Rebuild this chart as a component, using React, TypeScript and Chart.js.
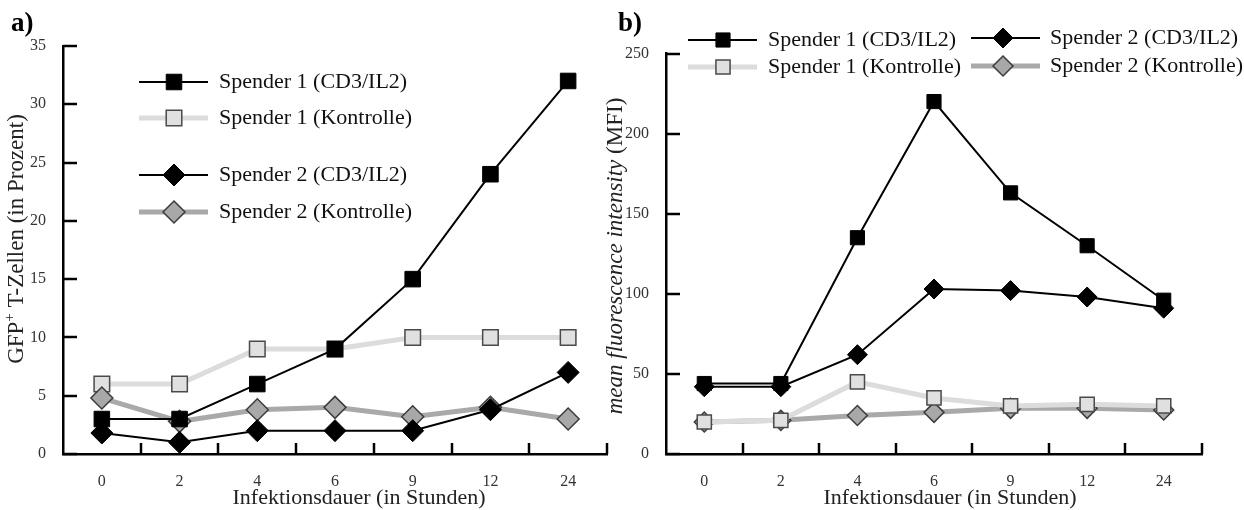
import React, { useEffect, useRef } from 'react';
import { Chart, registerables } from 'chart.js';

Chart.register(...registerables);

// Infection time points (hours)
const hours = ['0', '2', '4', '6', '9', '12', '24'];

const seriesNames = [
  'Spender 1 (CD3/IL2)',
  'Spender 1 (Kontrolle)',
  'Spender 2 (CD3/IL2)',
  'Spender 2 (Kontrolle)',
];

// Panel a: GFP+ T cells in percent
const gfpDonor1Stim = [3, 3, 6, 9, 15, 24, 32];
const gfpDonor1Ctrl = [6, 6, 9, 9, 10, 10, 10];
const gfpDonor2Stim = [1.8, 1, 2, 2, 2, 3.8, 7];
const gfpDonor2Ctrl = [4.8, 2.8, 3.8, 4, 3.2, 4, 3];

// Panel b: mean fluorescence intensity
const mfiDonor1Stim = [44, 44, 135, 220, 163, 130, 96];
const mfiDonor1Ctrl = [20, 21, 45, 35, 30, 31, 30];
const mfiDonor2Stim = [42, 42, 62, 103, 102, 98, 91];
const mfiDonor2Ctrl = [20, 21, 24, 26, 28.5, 28.5, 27.5];

// Axis ranges
const gfpAxisMax = 35;
const gfpAxisStep = 5;
const mfiAxisMax = 250;
const mfiAxisStep = 50;

const SERIF = '"Liberation Serif", "Times New Roman", serif';

type SeriesStyle = {
  line: string;
  lineWidth: number;
  shape: 'rect' | 'rectRot';
  fill: string;
  edge: string;
  edgeWidth: number;
};

const styleStim1: SeriesStyle = { line: '#000', lineWidth: 2, shape: 'rect', fill: '#000', edge: '#000', edgeWidth: 1 };
const styleCtrl1: SeriesStyle = { line: '#dcdcdc', lineWidth: 5, shape: 'rect', fill: '#e0e0e0', edge: '#4a4a4a', edgeWidth: 1.5 };
const styleStim2: SeriesStyle = { line: '#000', lineWidth: 2, shape: 'rectRot', fill: '#000', edge: '#000', edgeWidth: 1 };
const styleCtrl2: SeriesStyle = { line: '#a9a9a9', lineWidth: 5, shape: 'rectRot', fill: '#a8a8a8', edge: '#3c3c3c', edgeWidth: 1.5 };

function makeDataset(label: string, data: number[], s: SeriesStyle, radius: number, order: number) {
  return {
    label,
    data,
    order,
    borderColor: s.line,
    borderWidth: s.lineWidth,
    tension: 0,
    pointStyle: s.shape,
    pointRadius: radius,
    pointBackgroundColor: s.fill,
    pointBorderColor: s.edge,
    pointBorderWidth: s.edgeWidth,
    clip: false as const,
    _style: s,
  };
}

type TextPart = { text: string; font: string; dy?: number };

type LegendItem = { ds: number; y: number; lineX0: number; lineX1: number; markX: number; textX: number };

type PanelDecor = {
  tag: string;
  tagX: number;
  tagY: number;
  yTitle: TextPart[];
  yTitleX: number;
  yTitleY: number;
  xTitle: string;
  xTitleX: number;
  xTitleY: number;
  legend: LegendItem[];
  radius: number;
};

function drawShape(ctx: CanvasRenderingContext2D, shape: string, x: number, y: number, r: number) {
  ctx.beginPath();
  if (shape === 'rect') {
    const h = Math.SQRT1_2 * r;
    ctx.rect(x - h, y - h, 2 * h, 2 * h);
  } else {
    ctx.moveTo(x, y - r);
    ctx.lineTo(x + r, y);
    ctx.lineTo(x, y + r);
    ctx.lineTo(x - r, y);
    ctx.closePath();
  }
}

function decorPlugin(cfg: PanelDecor) {
  return {
    id: 'panelDecor',
    afterDraw(chart: any) {
      const ctx: CanvasRenderingContext2D = chart.ctx;
      const { left, bottom } = chart.chartArea;
      const xs = chart.scales.x;
      const ys = chart.scales.y;
      ctx.save();

      // inward tick marks on both axes
      ctx.strokeStyle = '#000';
      ctx.lineWidth = 2.5;
      ctx.lineCap = 'butt';
      for (let i = 0; i < hours.length; i++) {
        const px = Math.round(xs.getPixelForValue(i + 0.5));
        ctx.beginPath();
        ctx.moveTo(px, bottom);
        ctx.lineTo(px, bottom - 11);
        ctx.stroke();
      }
      ys.ticks.forEach((t: any) => {
        const py = Math.round(ys.getPixelForValue(t.value));
        ctx.beginPath();
        ctx.moveTo(left, py);
        ctx.lineTo(left + 14, py);
        ctx.stroke();
      });

      // legend
      cfg.legend.forEach((item) => {
        const ds = chart.data.datasets[item.ds];
        const s: SeriesStyle = ds._style;
        ctx.strokeStyle = s.line;
        ctx.lineWidth = s.lineWidth;
        ctx.beginPath();
        ctx.moveTo(item.lineX0, item.y);
        ctx.lineTo(item.lineX1, item.y);
        ctx.stroke();
        drawShape(ctx, s.shape, item.markX, item.y, cfg.radius);
        ctx.fillStyle = s.fill;
        ctx.fill();
        ctx.lineWidth = s.edgeWidth;
        ctx.strokeStyle = s.edge;
        ctx.stroke();
        ctx.fillStyle = '#111';
        ctx.font = `22px ${SERIF}`;
        ctx.textAlign = 'left';
        ctx.textBaseline = 'alphabetic';
        ctx.fillText(ds.label, item.textX, item.y + 6);
      });

      // panel tag
      ctx.fillStyle = '#000';
      ctx.font = `bold 27px ${SERIF}`;
      ctx.textAlign = 'left';
      ctx.textBaseline = 'alphabetic';
      ctx.fillText(cfg.tag, cfg.tagX, cfg.tagY);

      // x axis title
      ctx.fillStyle = '#222';
      ctx.font = `22px ${SERIF}`;
      ctx.textAlign = 'center';
      ctx.textBaseline = 'middle';
      ctx.fillText(cfg.xTitle, cfg.xTitleX, cfg.xTitleY);

      // y axis title, rotated, possibly mixed styles
      ctx.translate(cfg.yTitleX, cfg.yTitleY);
      ctx.rotate(-Math.PI / 2);
      ctx.textAlign = 'left';
      ctx.textBaseline = 'middle';
      let total = 0;
      const widths = cfg.yTitle.map((p) => {
        ctx.font = p.font;
        const w = ctx.measureText(p.text).width;
        total += w;
        return w;
      });
      let cx = -total / 2;
      cfg.yTitle.forEach((p, i) => {
        ctx.font = p.font;
        ctx.fillText(p.text, cx, p.dy || 0);
        cx += widths[i];
      });
      ctx.restore();
    },
  };
}

function buildOptions(yMax: number, yStep: number, yWidth: number, padding: any) {
  return {
    responsive: false,
    animation: false as const,
    events: [] as any[],
    layout: { padding },
    plugins: { legend: { display: false }, tooltip: { enabled: false }, title: { display: false } },
    scales: {
      x: {
        type: 'category' as const,
        offset: true,
        grid: { display: false, offset: true },
        border: { display: true, color: '#000', width: 2.5 },
        ticks: { color: '#333', font: { family: SERIF, size: 16 }, padding: 10, autoSkip: false, maxRotation: 0 },
        afterFit: (s: any) => {
          s.height = 56;
        },
      },
      y: {
        min: 0,
        max: yMax,
        grid: { display: false },
        border: { display: true, color: '#000', width: 2.5 },
        ticks: { stepSize: yStep, color: '#333', font: { family: SERIF, size: 16 }, padding: 9 },
        afterFit: (s: any) => {
          s.width = yWidth;
        },
      },
    },
  };
}

function PanelCanvas(props: { left: number; width: number; build: (c: HTMLCanvasElement) => Chart }) {
  const ref = useRef<HTMLCanvasElement>(null);
  useEffect(() => {
    if (!ref.current) return;
    const chart = props.build(ref.current);
    return () => chart.destroy();
  }, []);
  return (
    <canvas
      ref={ref}
      width={props.width}
      height={510}
      style={{ position: 'absolute', left: props.left, top: 0, width: props.width, height: 510 }}
    />
  );
}

function buildGfp(canvas: HTMLCanvasElement) {
  const r = 11;
  const decor: PanelDecor = {
    tag: 'a)',
    tagX: 11,
    tagY: 31,
    yTitle: [
      { text: 'GFP', font: `23px ${SERIF}` },
      { text: '+', font: `15px ${SERIF}`, dy: -7 },
      { text: ' T-Zellen (in Prozent)', font: `23px ${SERIF}` },
    ],
    yTitleX: 17,
    yTitleY: 239,
    xTitle: 'Infektionsdauer (in Stunden)',
    xTitleX: 359,
    xTitleY: 498,
    radius: r,
    legend: [
      { ds: 0, y: 82, lineX0: 139, lineX1: 208, markX: 174, textX: 219 },
      { ds: 1, y: 118, lineX0: 139, lineX1: 208, markX: 174, textX: 219 },
      { ds: 2, y: 175, lineX0: 139, lineX1: 208, markX: 174, textX: 219 },
      { ds: 3, y: 212, lineX0: 139, lineX1: 208, markX: 174, textX: 219 },
    ],
  };
  return new Chart(canvas, {
    type: 'line',
    data: {
      labels: hours,
      datasets: [
        makeDataset(seriesNames[0], gfpDonor1Stim, styleStim1, r, 0),
        makeDataset(seriesNames[1], gfpDonor1Ctrl, styleCtrl1, r, 3),
        makeDataset(seriesNames[2], gfpDonor2Stim, styleStim2, r, 1),
        makeDataset(seriesNames[3], gfpDonor2Ctrl, styleCtrl2, r, 2),
      ] as any,
    },
    options: buildOptions(gfpAxisMax, gfpAxisStep, 63, { top: 46, right: 13, left: 0, bottom: 0 }) as any,
    plugins: [decorPlugin(decor)],
  });
}

function buildMfi(canvas: HTMLCanvasElement) {
  const r = 10;
  const decor: PanelDecor = {
    tag: 'b)',
    tagX: 28,
    tagY: 31,
    yTitle: [
      { text: 'mean fluorescence intensity', font: `italic 23px ${SERIF}` },
      { text: ' (MFI)', font: `23px ${SERIF}` },
    ],
    yTitleX: 26,
    yTitleY: 256,
    xTitle: 'Infektionsdauer (in Stunden)',
    xTitleX: 360,
    xTitleY: 498,
    radius: r,
    legend: [
      { ds: 1, y: 40, lineX0: 98, lineX1: 167, markX: 133, textX: 178 },
      { ds: 2, y: 67, lineX0: 98, lineX1: 167, markX: 133, textX: 178 },
      { ds: 0, y: 38, lineX0: 381, lineX1: 450, markX: 413, textX: 460 },
      { ds: 3, y: 66, lineX0: 381, lineX1: 450, markX: 413, textX: 460 },
    ],
  };
  return new Chart(canvas, {
    type: 'line',
    data: {
      labels: hours,
      datasets: [
        makeDataset(seriesNames[2], mfiDonor2Stim, styleStim2, r, 0),
        makeDataset(seriesNames[0], mfiDonor1Stim, styleStim1, r, 1),
        makeDataset(seriesNames[1], mfiDonor1Ctrl, styleCtrl1, r, 2),
        makeDataset(seriesNames[3], mfiDonor2Ctrl, styleCtrl2, r, 3),
      ] as any,
    },
    options: buildOptions(mfiAxisMax, mfiAxisStep, 76, { top: 53.5, right: 42, left: 0, bottom: 0 }) as any,
    plugins: [decorPlugin(decor)],
  });
}

export default function App() {
  return (
    <div style={{ position: 'absolute', left: 0, top: 0, width: 1244, height: 510, background: '#fff', overflow: 'hidden' }}>
      <PanelCanvas left={0} width={620} build={buildGfp} />
      <PanelCanvas left={590} width={654} build={buildMfi} />
    </div>
  );
}
